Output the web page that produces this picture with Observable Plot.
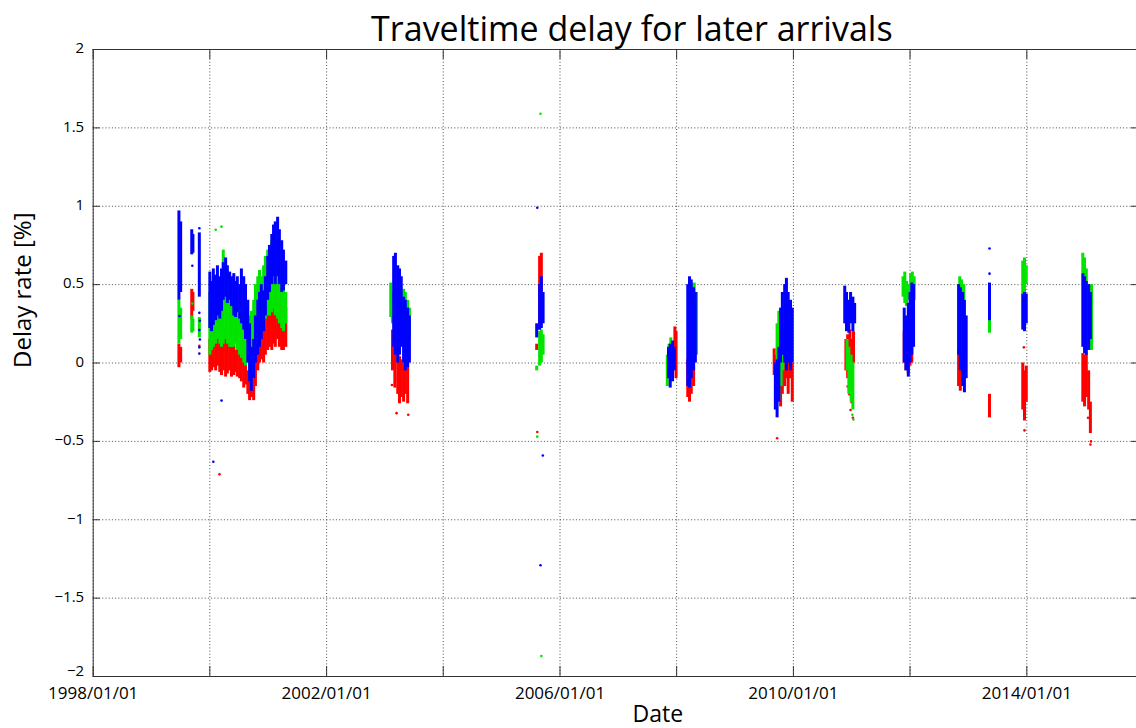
<!DOCTYPE html>
<html>
<head>
<meta charset="utf-8">
<script src="https://cdn.jsdelivr.net/npm/d3@7"></script>
<script src="https://cdn.jsdelivr.net/npm/@observablehq/plot@0.6"></script>
<style>
  html, body { margin: 0; padding: 0; background: #fff; }
</style>
</head>
<body>
<div id="chart"></div>
<script>
// ---- Text ----
const titleText = "Traveltime delay for later arrivals";
const xLabelText = "Date";
const yLabelText = "Delay rate [%]";

// ---- Axis ticks ----
const xGridDates = ["1998-01-01","2000-01-01","2002-01-01","2004-01-01","2006-01-01","2008-01-01","2010-01-01","2012-01-01","2014-01-01"];
const xTickLabels = ["1998/01/01","2002/01/01","2006/01/01","2010/01/01","2014/01/01"];
const yTicks = [-2, -1.5, -1, -0.5, 0, 0.5, 1, 1.5, 2];
const xDomainDates = ["1998-01-01", "2015-12-01"];

// ---- Data: dense streaks as [decimal year, low, high]; isolated points as [decimal year, value] ----
const redBands = [
  [1999.47,-0.03,0.12],[1999.50,0.00,0.10],
  [1999.69,0.28,0.47],[1999.71,0.33,0.45],
  [2000.00,-0.06,0.15],[2000.03,-0.05,0.22],[2000.06,-0.03,0.25],[2000.10,-0.05,0.20],[2000.13,-0.02,0.28],
  [2000.17,-0.06,0.18],[2000.20,-0.08,0.15],[2000.23,-0.05,0.20],[2000.27,-0.09,0.21],[2000.30,-0.07,0.15],
  [2000.34,-0.05,0.12],[2000.37,-0.09,0.10],[2000.41,-0.08,0.12],[2000.44,-0.06,0.08],[2000.47,-0.09,0.10],
  [2000.51,-0.10,0.06],[2000.54,-0.12,0.10],[2000.58,-0.16,0.05],[2000.61,-0.14,0.00],[2000.65,-0.20,-0.05],
  [2000.68,-0.24,-0.08],[2000.71,-0.22,-0.06],[2000.75,-0.24,-0.10],[2000.78,-0.15,0.05],[2000.82,-0.05,0.15],
  [2000.85,0.00,0.25],[2000.88,0.02,0.33],[2000.92,0.00,0.30],[2000.95,0.05,0.35],[2000.99,0.08,0.40],
  [2001.02,0.10,0.45],[2001.06,0.08,0.50],[2001.09,0.12,0.55],[2001.12,0.10,0.48],[2001.16,0.15,0.52],
  [2001.19,0.10,0.45],[2001.23,0.08,0.50],[2001.26,0.08,0.40],[2001.30,0.10,0.35],
  [2003.13,-0.05,0.21],[2003.17,-0.16,0.15],[2003.22,-0.20,0.10],[2003.25,-0.26,0.04],[2003.28,-0.22,0.02],
  [2003.32,-0.25,0.00],[2003.35,-0.20,0.02],[2003.39,-0.26,-0.02],
  [2005.60,0.08,0.12],[2005.65,0.21,0.68],[2005.68,0.25,0.70],
  [2007.97,0.00,0.23],[2007.99,-0.10,0.20],
  [2008.19,-0.22,0.02],[2008.22,-0.25,0.00],[2008.25,-0.20,0.02],[2008.29,-0.15,-0.02],
  [2009.67,-0.08,0.09],[2009.70,-0.10,0.05],
  [2009.78,-0.28,0.00],[2009.81,-0.20,0.10],[2009.85,-0.15,0.16],[2009.88,-0.10,0.12],[2009.91,-0.20,0.05],
  [2009.95,-0.10,0.10],[2009.98,-0.25,0.00],
  [2010.90,-0.05,0.15],[2010.93,-0.10,0.18],[2010.97,-0.05,0.21],[2011.00,-0.10,0.15],[2011.03,0.00,0.20],
  [2011.90,0.00,0.20],[2011.93,-0.05,0.23],[2011.97,-0.07,0.15],[2012.00,-0.02,0.18],[2012.03,0.00,0.12],
  [2012.83,-0.15,0.08],[2012.86,-0.18,0.05],[2012.89,-0.10,0.00],
  [2013.36,-0.35,-0.20],
  [2013.93,-0.30,0.00],[2013.96,-0.37,-0.05],[2013.99,-0.25,-0.02],
  [2014.96,-0.25,0.06],[2014.99,-0.28,0.05],[2015.02,-0.22,0.06],[2015.06,-0.30,-0.05],[2015.09,-0.45,-0.25]
];
const greenBands = [
  [1999.47,0.12,0.40],[1999.50,0.15,0.35],
  [1999.69,0.19,0.30],[1999.71,0.20,0.28],
  [1999.82,0.16,0.29],
  [2000.00,0.05,0.45],[2000.03,0.08,0.50],[2000.06,0.10,0.55],[2000.10,0.12,0.52],[2000.13,0.15,0.57],
  [2000.17,0.12,0.50],[2000.20,0.10,0.55],[2000.23,0.12,0.72],[2000.27,0.15,0.65],[2000.30,0.12,0.55],
  [2000.34,0.10,0.45],[2000.37,0.10,0.40],[2000.41,0.10,0.38],[2000.44,0.12,0.40],[2000.47,0.08,0.35],
  [2000.51,0.05,0.30],[2000.54,0.03,0.29],[2000.58,0.00,0.28],[2000.61,-0.02,0.25],[2000.65,0.00,0.22],
  [2000.68,0.02,0.30],[2000.71,0.05,0.33],[2000.75,0.10,0.40],[2000.78,0.15,0.50],[2000.82,0.20,0.55],
  [2000.85,0.22,0.59],[2000.88,0.21,0.55],[2000.92,0.25,0.62],[2000.95,0.28,0.68],[2000.99,0.30,0.72],
  [2001.02,0.30,0.75],[2001.06,0.32,0.78],[2001.09,0.35,0.80],[2001.12,0.30,0.78],[2001.16,0.28,0.72],
  [2001.19,0.25,0.65],[2001.23,0.22,0.60],[2001.26,0.20,0.52],[2001.30,0.25,0.45],
  [2003.10,0.29,0.51],[2003.13,0.25,0.45],[2003.17,0.20,0.40],
  [2003.32,0.10,0.47],[2003.35,0.05,0.45],[2003.39,0.04,0.40],[2003.42,0.15,0.35],
  [2005.60,-0.05,-0.02],[2005.65,-0.02,0.20],[2005.68,0.00,0.21],[2005.71,0.05,0.18],
  [2007.84,-0.15,0.05],[2007.87,-0.10,0.12],[2007.90,-0.05,0.16],
  [2008.27,0.00,0.50],[2008.30,0.02,0.51],[2008.34,0.05,0.45],
  [2009.72,-0.22,0.25],[2009.75,-0.24,0.33],[2009.79,-0.15,0.30],[2009.82,-0.05,0.20],[2009.96,0.10,0.30],
  [2010.92,-0.05,0.15],[2010.95,-0.20,0.10],[2010.99,-0.25,0.05],[2011.02,-0.30,0.00],
  [2011.88,0.42,0.55],[2011.91,0.38,0.58],[2011.94,0.36,0.52],[2011.97,0.40,0.50],[2012.01,0.42,0.57],
  [2012.04,0.45,0.58],[2012.07,0.40,0.55],
  [2012.85,0.45,0.55],[2012.88,0.42,0.53],[2012.92,0.40,0.50],
  [2013.36,0.19,0.35],
  [2013.93,0.44,0.65],[2013.96,0.45,0.67],[2013.99,0.50,0.62],
  [2014.96,0.57,0.70],[2014.99,0.55,0.67],[2015.02,0.50,0.60],[2015.11,0.08,0.50]
];
const blueBands = [
  [1999.47,0.40,0.97],[1999.50,0.45,0.90],
  [1999.69,0.69,0.85],[1999.71,0.70,0.82],
  [1999.82,0.42,0.83],
  [2000.00,0.22,0.58],[2000.03,0.20,0.52],[2000.06,0.24,0.60],[2000.10,0.27,0.56],[2000.13,0.30,0.62],
  [2000.17,0.28,0.55],[2000.20,0.33,0.60],[2000.23,0.40,0.64],[2000.27,0.42,0.67],[2000.30,0.38,0.62],
  [2000.34,0.40,0.58],[2000.37,0.36,0.55],[2000.41,0.30,0.57],[2000.44,0.29,0.52],[2000.47,0.32,0.55],
  [2000.51,0.28,0.50],[2000.54,0.25,0.60],[2000.58,0.21,0.55],[2000.61,0.15,0.50],[2000.65,0.00,0.40],
  [2000.68,-0.12,0.25],[2000.71,-0.18,0.10],[2000.75,-0.10,0.15],[2000.78,0.00,0.30],[2000.82,0.05,0.40],
  [2000.85,0.10,0.45],[2000.88,0.15,0.50],[2000.92,0.20,0.46],[2000.95,0.30,0.55],[2000.99,0.40,0.68],
  [2001.02,0.45,0.75],[2001.06,0.50,0.82],[2001.09,0.55,0.88],[2001.12,0.50,0.90],[2001.16,0.55,0.93],
  [2001.19,0.50,0.85],[2001.23,0.45,0.78],[2001.26,0.46,0.72],[2001.30,0.50,0.65],
  [2003.15,0.10,0.68],[2003.18,0.05,0.70],[2003.22,0.00,0.62],[2003.25,0.05,0.60],[2003.28,0.10,0.55],
  [2003.32,0.00,0.42],[2003.35,-0.05,0.40],[2003.39,-0.03,0.35],[2003.42,0.00,0.30],
  [2005.60,0.16,0.25],[2005.65,0.21,0.50],[2005.68,0.22,0.55],[2005.71,0.25,0.45],
  [2007.86,-0.10,0.10],[2007.89,-0.16,0.12],[2007.93,-0.12,0.14],[2007.96,-0.05,0.10],
  [2008.19,-0.15,0.50],[2008.22,-0.16,0.55],[2008.25,-0.10,0.53],[2008.29,-0.05,0.48],[2008.32,0.00,0.45],
  [2009.69,-0.30,0.00],[2009.72,-0.35,0.02],[2009.75,-0.25,0.10],
  [2009.78,0.00,0.35],[2009.81,0.05,0.45],[2009.85,0.00,0.50],[2009.88,-0.05,0.54],[2009.91,0.00,0.45],
  [2009.95,-0.05,0.40],[2009.98,0.00,0.35],
  [2010.88,0.25,0.49],[2010.91,0.20,0.45],[2010.95,0.19,0.40],[2010.98,0.25,0.45],[2011.02,0.20,0.42],[2011.05,0.25,0.38],
  [2011.90,0.00,0.35],[2011.93,-0.05,0.30],[2011.97,-0.09,0.38],[2012.00,0.00,0.45],[2012.03,0.05,0.51],[2012.06,0.10,0.50],
  [2012.83,0.05,0.50],[2012.86,-0.05,0.48],[2012.90,-0.15,0.45],[2012.93,-0.19,0.40],[2012.96,-0.10,0.30],
  [2013.36,0.27,0.51],
  [2013.93,0.21,0.44],[2013.96,0.20,0.45],[2013.99,0.25,0.44],
  [2014.96,0.10,0.57],[2014.99,0.06,0.55],[2015.02,0.05,0.52],[2015.06,0.08,0.50],[2015.09,0.15,0.45]
];
const redPoints = [
  [1999.82,0.11],[2000.165,-0.71],[2003.12,-0.14],[2003.20,-0.32],[2003.40,-0.33],
  [2005.61,-0.44],[2009.72,-0.48],[2010.93,-0.15],[2010.96,-0.20],[2011.00,-0.25],[2010.98,-0.30],
  [2011.02,-0.35],[2013.95,0.10],[2013.96,-0.43],[2015.10,-0.50],[2015.09,-0.52],[2015.05,-0.35]
];
const greenPoints = [
  [1999.70,0.38],[2000.10,0.85],[2000.20,0.87],[2005.665,1.59],[2005.61,-0.47],[2005.68,-1.87],
  [2011.03,-0.36],[2011.01,-0.33]
];
const bluePoints = [
  [1999.48,0.30],[1999.70,0.62],[1999.82,0.86],[1999.82,0.32],[1999.83,0.27],[1999.82,0.21],
  [1999.83,0.15],[1999.82,0.10],[1999.82,0.06],[2000.06,-0.63],[2000.20,-0.24],
  [2005.61,0.99],[2005.705,-0.59],[2005.665,-1.29],[2013.36,0.73],[2013.36,0.57]
];

// ---- Helpers ----
function yearToDate(y) {
  const y0 = Math.floor(y);
  const t0 = Date.UTC(y0, 0, 1), t1 = Date.UTC(y0 + 1, 0, 1);
  return new Date(t0 + (y - y0) * (t1 - t0));
}
const parseDay = d3.utcParse("%Y-%m-%d");
const parseLabel = d3.utcParse("%Y/%m/%d");
const xGrid = xGridDates.map(parseDay);
const xLabelTicks = xTickLabels.map(parseLabel);
const labelByTime = new Map(xTickLabels.map((s) => [parseLabel(s).getTime(), s]));
const fmtY = (d) => (d < 0 ? "\u2212" : "") + Math.abs(d);
const yMin = d3.min(yTicks);

const W = 1136, H = 728;
const mL = 92.7, mT = 49, mB = 52, mR = -2;
const innerW = W - mL - mR, innerH = H - mT - mB;

const colors = { red: "#ff0000", green: "#00e400", blue: "#0000ff" };
const bandMark = (data, c) => Plot.ruleX(data, {
  x: (d) => yearToDate(d[0]), y1: (d) => d[1], y2: (d) => d[2],
  stroke: c, strokeWidth: 3
});
const pointMark = (data, c) => Plot.dot(data, {
  x: (d) => yearToDate(d[0]), y: (d) => d[1], r: 1.3, fill: c, stroke: "none"
});

const chart = Plot.plot({
  width: W, height: H,
  marginLeft: mL, marginRight: mR, marginTop: mT, marginBottom: mB,
  style: { fontFamily: "'Open Sans', sans-serif", background: "#fff", color: "#000", overflow: "hidden" },
  x: { type: "utc", domain: xDomainDates.map(parseDay) },
  y: { domain: [-2, 2] },
  marks: [
    Plot.gridX(xGrid, { stroke: "#000", strokeOpacity: 0.7, strokeDasharray: "1,2.2" }),
    Plot.gridY(yTicks, { stroke: "#000", strokeOpacity: 0.7, strokeDasharray: "1,2.2" }),
    bandMark(redBands, colors.red), pointMark(redPoints, colors.red),
    bandMark(greenBands, colors.green), pointMark(greenPoints, colors.green),
    bandMark(blueBands, colors.blue), pointMark(bluePoints, colors.blue),
    Plot.frame({ stroke: "#333", strokeWidth: 1 }),
    Plot.tickX(xGrid, { x: (d) => d, insetTop: innerH - 10, stroke: "#333" }),
    Plot.tickX(xGrid, { x: (d) => d, insetBottom: innerH - 10, stroke: "#333" }),
    Plot.tickY(yTicks, { y: (d) => d, insetRight: innerW - 7, stroke: "#333" }),
    Plot.tickY(yTicks, { y: (d) => d, insetLeft: innerW - 7, stroke: "#333" }),
    Plot.axisX(xLabelTicks, {
      tickSize: 0, tickPadding: 10, fontSize: 17, label: null,
      tickFormat: (d) => labelByTime.get(d.getTime())
    }),
    Plot.axisY(yTicks.filter((d) => d !== yMin), { tickSize: 0, tickPadding: 9, fontSize: 15, dy: -1, label: null, tickFormat: fmtY }),
    Plot.axisY(yTicks.filter((d) => d === yMin), { tickSize: 0, tickPadding: 9, fontSize: 15, dy: -5, label: null, tickFormat: fmtY }),
    Plot.text([titleText], { text: (d) => d, frameAnchor: "top", dx: 16, dy: -9, lineAnchor: "bottom", fontSize: 34 }),
    Plot.text([xLabelText], { text: (d) => d, frameAnchor: "bottom", dx: 42, dy: 45, lineAnchor: "bottom", fontSize: 23 }),
    Plot.text([yLabelText], { text: (d) => d, frameAnchor: "left", dx: -70, dy: 5, rotate: -90, lineAnchor: "middle", fontSize: 24 })
  ]
});
document.getElementById("chart").appendChild(chart);
</script>
</body>
</html>
